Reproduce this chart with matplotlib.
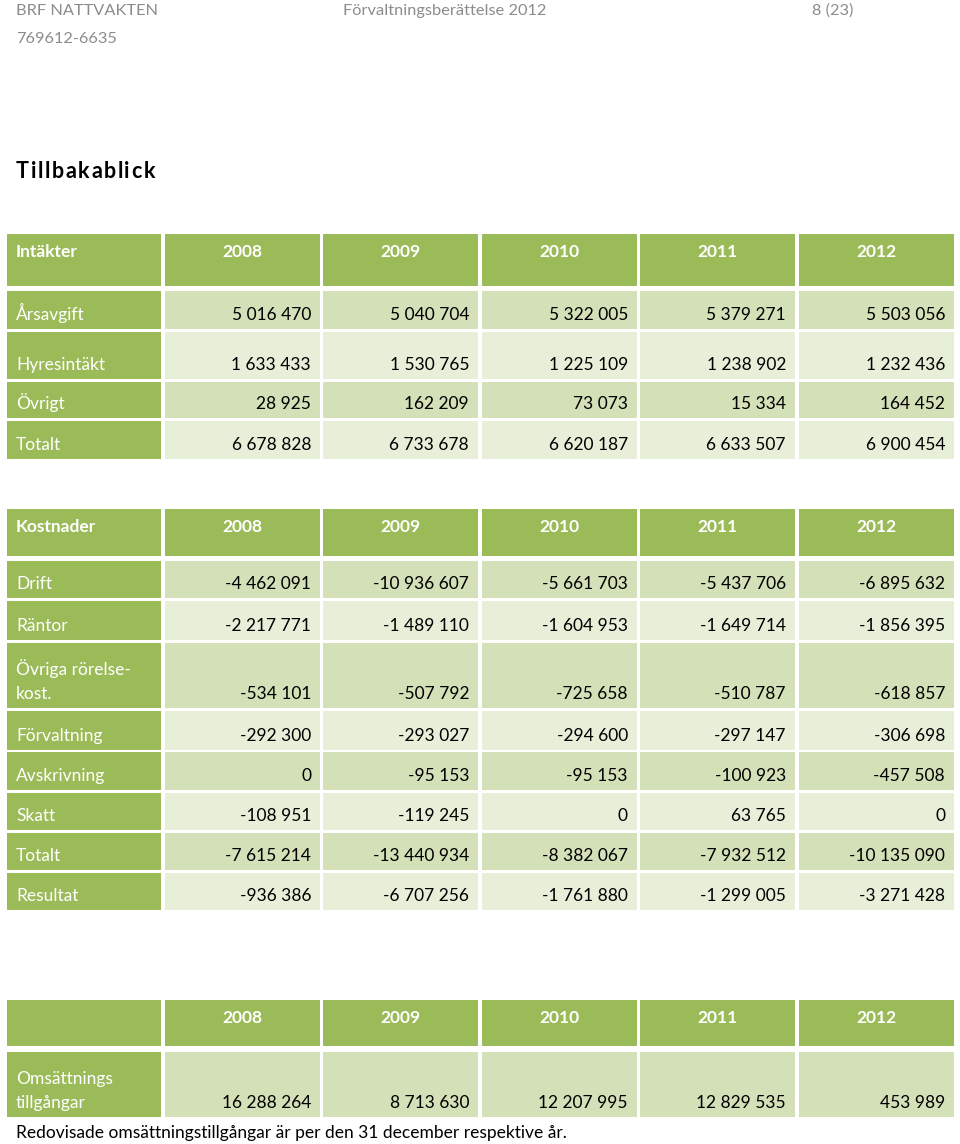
import matplotlib.pyplot as plt
from matplotlib.patches import Rectangle

plt.rcParams['font.family'] = ['Lato', 'DejaVu Sans']

GREEN = '#9bbb59'
DARK = '#d3e0b8'
LIGHT = '#e7efd9'
GRAY = '#8c8c8c'

years = ['2008', '2009', '2010', '2011', '2012']

inc_labels = ['Årsavgift', 'Hyresintäkt', 'Övrigt', 'Totalt']
inc_values = [
    ['5 016 470', '5 040 704', '5 322 005', '5 379 271', '5 503 056'],
    ['1 633 433', '1 530 765', '1 225 109', '1 238 902', '1 232 436'],
    ['28 925', '162 209', '73 073', '15 334', '164 452'],
    ['6 678 828', '6 733 678', '6 620 187', '6 633 507', '6 900 454'],
]

cost_labels = ['Drift', 'Räntor', 'Övriga rörelse-\nkost.', 'Förvaltning',
               'Avskrivning', 'Skatt', 'Totalt', 'Resultat']
cost_values = [
    ['-4 462 091', '-10 936 607', '-5 661 703', '-5 437 706', '-6 895 632'],
    ['-2 217 771', '-1 489 110', '-1 604 953', '-1 649 714', '-1 856 395'],
    ['-534 101', '-507 792', '-725 658', '-510 787', '-618 857'],
    ['-292 300', '-293 027', '-294 600', '-297 147', '-306 698'],
    ['0', '-95 153', '-95 153', '-100 923', '-457 508'],
    ['-108 951', '-119 245', '0', '63 765', '0'],
    ['-7 615 214', '-13 440 934', '-8 382 067', '-7 932 512', '-10 135 090'],
    ['-936 386', '-6 707 256', '-1 761 880', '-1 299 005', '-3 271 428'],
]

asset_labels = ['Omsättnings\ntillgångar']
asset_values = [['16 288 264', '8 713 630', '12 207 995', '12 829 535', '453 989']]

# column edges (px)
col_x = [(7, 161), (165, 320), (323, 478), (482, 637), (640, 795), (799, 954)]

fig = plt.figure(figsize=(9.6, 11.44), dpi=100)
ax = fig.add_axes([0, 0, 1, 1])
ax.set_xlim(0, 960)
ax.set_ylim(1144, 0)
ax.axis('off')

FS = 12.5


def cell(x0, x1, y0, y1, color):
    ax.add_patch(Rectangle((x0, y0), x1 - x0, y1 - y0, color=color, lw=0))


def table(head, head_rows, labels, values, rows, shades):
    y0, y1 = head_rows
    for i, (x0, x1) in enumerate(col_x):
        cell(x0, x1, y0, y1, GREEN)
    ax.text(16, y0 + 18, head, color='white', fontsize=FS, fontweight='bold', va='center')
    for j, yr in enumerate(years):
        x0, x1 = col_x[j + 1]
        ax.text((x0 + x1) / 2, y0 + 18, yr, color='white', fontsize=FS,
                fontweight='bold', va='center', ha='center')
    for r, (lab, vals) in enumerate(zip(labels, values)):
        a, b = rows[r]
        cell(col_x[0][0], col_x[0][1], a, b, GREEN)
        ax.text(16, b - 9, lab, color='white', fontsize=FS, va='baseline',
                linespacing=1.6)
        for j, v in enumerate(vals):
            x0, x1 = col_x[j + 1]
            cell(x0, x1, a, b, shades[r])
            ax.text(x1 - 9, b - 9, v, color='black', fontsize=FS, va='baseline', ha='right')


table('Intäkter', (234, 286), inc_labels, inc_values,
      [(291, 329), (332, 379), (382, 418), (421, 459)],
      [DARK, LIGHT, DARK, LIGHT])

table('Kostnader', (509, 556), cost_labels, cost_values,
      [(561, 598), (601, 640), (643, 708), (711, 750), (752, 790), (793, 830),
       (833, 870), (873, 910)],
      [DARK, LIGHT, DARK, LIGHT, DARK, LIGHT, DARK, LIGHT])

table('', (1000, 1046), asset_labels, asset_values, [(1052, 1117)], [DARK])

ax.text(16, 1138, 'Redovisade omsättningstillgångar är per den 31 december respektive år.',
        color='black', fontsize=FS, va='baseline')

# page header
ax.text(16, 11, 'BRF NATTVAKTEN', color=GRAY, fontsize=11.8, va='center')
ax.text(343, 11, 'Förvaltningsberättelse 2012', color=GRAY, fontsize=11.8, va='center')
ax.text(812, 11, '8 (23)', color=GRAY, fontsize=11.8, va='center')
ax.text(16, 39, '769612-6635', color=GRAY, fontsize=11.8, va='center')

# spaced title
fig.canvas.draw()
r = fig.canvas.get_renderer()
x = 16
for ch in 'Tillbakablick':
    t = ax.text(x, 172, ch, fontsize=15.5, fontweight='bold', color='black', va='center')
    w = t.get_window_extent(renderer=r).width
    x += w + 1.6

fig.savefig('out.png', dpi=100)
